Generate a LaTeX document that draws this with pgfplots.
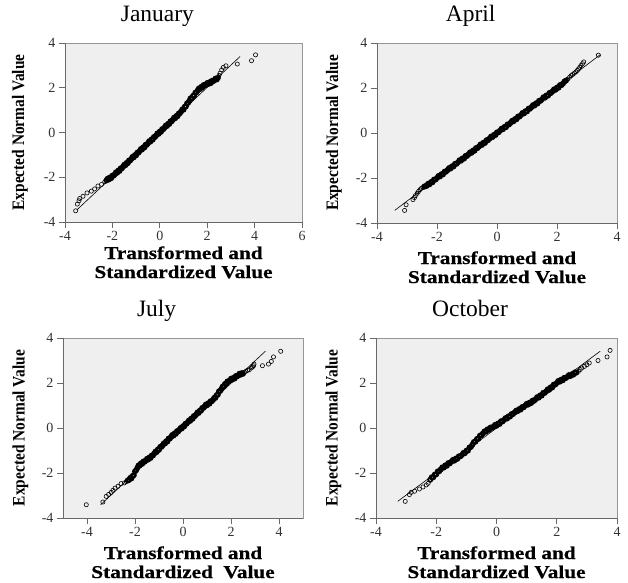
\documentclass[border=0pt]{standalone}
\usepackage{pgfplots}
\pgfplotsset{compat=1.18}
\usepackage{fontspec}
\setmainfont{Liberation Serif}
\newfontfamily\widefont[FakeStretch=1.18, FakeBold=0.6]{Liberation Serif}
\newfontfamily\tallfont[FakeStretch=0.88]{Liberation Serif}
\definecolor{bggray}{RGB}{239,239,239}
\definecolor{axgray}{RGB}{105,105,105}
\definecolor{boxgray}{RGB}{150,150,150}
\pgfplotsset{qq/.style={
  scale only axis, anchor=south west,
  ymin=-4, ymax=4, ytick={-4,-2,0,2,4}, yticklabels={-4,-2,0,2,4},
  axis x line*=bottom, axis y line*=left,
  axis line style={-, draw=axgray, line width=0.8pt},
  axis background/.style={fill=bggray, draw=boxgray, line width=0.6pt},
  xtick pos=left, ytick pos=left, tick align=outside,
  major tick length=6pt,
  tick style={draw=axgray, line width=0.8pt},
  tick label style={font=\fontsize{14}{14}\selectfont, text=black!80},
  title style={font=\fontsize{23.5}{24}\selectfont, at={(axis description cs:0.39,1)}, anchor=base, yshift=16pt},
  ylabel={Expected Normal Value},
  ylabel style={font=\tallfont\bfseries\fontsize{17.5}{18}\selectfont, anchor=center},
  xlabel style={font=\widefont\bfseries\fontsize{18}{19}\selectfont, at={(axis description cs:0.5,0)}, anchor=base},
},
pts/.style={only marks, mark=o, mark size=2.1pt, mark options={line width=0.6pt, draw=black}},
band/.style={only marks, mark=o, mark size=2.1pt, mark options={line width=1.7pt, draw=black}},
ref/.style={black, line width=0.6pt}
}
\begin{document}
\begin{tikzpicture}
\path[use as bounding box] (0pt,0pt) rectangle (628pt,582pt);
% ---------------- January
\begin{axis}[qq, at={(65pt,360pt)}, width=237pt, height=179pt,
  xmin=-4, xmax=6, xtick={-4,-2,0,2,4,6}, xticklabels={-4,-2,0,2,4,6},
  title={January},
  ylabel style={at={(axis description cs:-0.19,0.5)}},
  xlabel={\begin{tabular}[t]{@{}c@{}}Transformed and\\Standardized Value\end{tabular}},
  xlabel style={yshift=-37pt}]
\addplot[ref] coordinates {(-3.5,-3.46) (3.39,3.40)};
\addplot[pts] coordinates {
(-3.55,-3.50) (-3.48,-3.20) (-3.41,-3.05) (-3.38,-2.95) (-3.24,-2.85) (-3.07,-2.70) (-2.89,-2.62) (-2.75,-2.52) (-2.61,-2.39) (-2.46,-2.32) (-2.32,-2.20)
(2.50,2.55) (2.54,2.65) (2.61,2.80) (2.68,2.91) (2.79,2.98) (3.27,3.06) (3.87,3.21) (4.04,3.47)
};
\addplot[band] coordinates {
(-2.25,-2.14) (-2.20,-2.06) (-2.15,-2.10) (-2.10,-2.01) (-2.05,-2.04) (-2.00,-1.93) (-1.95,-1.93) (-1.90,-1.87) (-1.85,-1.78) (-1.80,-1.80)
(-1.75,-1.70) (-1.70,-1.72) (-1.65,-1.60) (-1.60,-1.60) (-1.55,-1.53) (-1.50,-1.44) (-1.45,-1.46) (-1.40,-1.36) (-1.35,-1.37) (-1.30,-1.25)
(-1.25,-1.25) (-1.20,-1.18) (-1.15,-1.09) (-1.10,-1.11) (-1.05,-1.01) (-1.00,-1.02) (-0.95,-0.90) (-0.90,-0.90) (-0.85,-0.83) (-0.80,-0.74)
(-0.75,-0.76) (-0.70,-0.66) (-0.65,-0.67) (-0.60,-0.55) (-0.55,-0.55) (-0.50,-0.48) (-0.45,-0.39) (-0.40,-0.41) (-0.35,-0.31) (-0.30,-0.32)
(-0.25,-0.20) (-0.20,-0.20) (-0.15,-0.13) (-0.10,-0.04) (-0.05,-0.06) (0.00,0.04) (0.05,0.03) (0.10,0.15) (0.15,0.15) (0.20,0.22)
(0.25,0.31) (0.30,0.29) (0.35,0.39) (0.40,0.38) (0.45,0.50) (0.50,0.50) (0.55,0.57) (0.60,0.66) (0.65,0.64) (0.70,0.74)
(0.75,0.73) (0.80,0.85) (0.85,0.86) (0.90,0.94) (0.95,1.03) (1.00,1.02) (1.05,1.15) (1.10,1.16) (1.15,1.30) (1.20,1.33)
(1.25,1.42) (1.30,1.53) (1.35,1.52) (1.40,1.64) (1.45,1.65) (1.50,1.78) (1.55,1.80) (1.60,1.88) (1.65,1.97) (1.70,1.94)
(1.75,2.04) (1.80,2.02) (1.85,2.12) (1.90,2.10) (1.95,2.15) (2.00,2.21) (2.05,2.17) (2.10,2.25) (2.15,2.21) (2.20,2.31)
(2.25,2.29) (2.30,2.34) (2.35,2.41) (2.40,2.37) (2.45,2.44)
};
\end{axis}
% ---------------- April
\begin{axis}[qq, at={(377pt,359pt)}, width=240pt, height=180pt,
  xmin=-4, xmax=4, xtick={-4,-2,0,2,4}, xticklabels={-4,-2,0,2,4},
  title={April},
  ylabel style={at={(axis description cs:-0.18,0.5)}},
  xlabel={\begin{tabular}[t]{@{}c@{}}Transformed and\\Standardized Value\end{tabular}},
  xlabel style={yshift=-41pt}]
\addplot[ref] coordinates {(-3.41,-3.44) (3.44,3.48)};
\addplot[pts] coordinates {
(-3.08,-3.44) (-3.03,-3.19) (-2.80,-2.96) (-2.75,-2.87) (-2.72,-2.78) (-2.66,-2.68) (-2.62,-2.60) (-2.57,-2.52) (-2.52,-2.46) (-2.47,-2.42)
(2.36,2.40) (2.42,2.48) (2.47,2.55) (2.52,2.60) (2.58,2.66) (2.63,2.72) (2.68,2.78) (2.72,2.85) (2.76,2.92) (2.80,3.00) (2.85,3.08) (2.89,3.16) (3.38,3.46)
};
\addplot[band] coordinates {
(-2.42,-2.38) (-2.38,-2.36)
(-2.35,-2.35) (-2.30,-2.26) (-2.25,-2.28) (-2.20,-2.18) (-2.15,-2.19) (-2.10,-2.07) (-2.05,-2.07) (-2.00,-2.00) (-1.95,-1.91) (-1.90,-1.93)
(-1.85,-1.83) (-1.80,-1.84) (-1.75,-1.72) (-1.70,-1.72) (-1.65,-1.65) (-1.60,-1.56) (-1.55,-1.58) (-1.50,-1.48) (-1.45,-1.49) (-1.40,-1.37)
(-1.35,-1.37) (-1.30,-1.30) (-1.25,-1.21) (-1.20,-1.23) (-1.15,-1.13) (-1.10,-1.14) (-1.05,-1.02) (-1.00,-1.02) (-0.95,-0.95) (-0.90,-0.86)
(-0.85,-0.88) (-0.80,-0.78) (-0.75,-0.79) (-0.70,-0.67) (-0.65,-0.67) (-0.60,-0.60) (-0.55,-0.51) (-0.50,-0.53) (-0.45,-0.43) (-0.40,-0.44)
(-0.35,-0.32) (-0.30,-0.32) (-0.25,-0.25) (-0.20,-0.16) (-0.15,-0.18) (-0.10,-0.08) (-0.05,-0.09) (0.00,0.03) (0.05,0.03) (0.10,0.10)
(0.15,0.19) (0.20,0.17) (0.25,0.27) (0.30,0.26) (0.35,0.38) (0.40,0.38) (0.45,0.45) (0.50,0.54) (0.55,0.52) (0.60,0.62)
(0.65,0.61) (0.70,0.73) (0.75,0.73) (0.80,0.80) (0.85,0.89) (0.90,0.87) (0.95,0.97) (1.00,0.96) (1.05,1.08) (1.10,1.08)
(1.15,1.15) (1.20,1.24) (1.25,1.22) (1.30,1.32) (1.35,1.31) (1.40,1.43) (1.45,1.43) (1.50,1.50) (1.55,1.59) (1.60,1.57)
(1.65,1.67) (1.70,1.66) (1.75,1.78) (1.80,1.78) (1.85,1.85) (1.90,1.94) (1.95,1.92) (2.00,2.02) (2.05,2.01) (2.10,2.13)
(2.15,2.13) (2.20,2.20) (2.25,2.29) (2.30,2.33)
};
\end{axis}
% ---------------- July
\begin{axis}[qq, at={(63pt,64pt)}, width=240pt, height=180pt,
  xmin=-5, xmax=5, xtick={-4,-2,0,2,4}, xticklabels={-4,-2,0,2,4},
  title={July},
  ylabel style={at={(axis description cs:-0.177,0.5)}},
  xlabel={\begin{tabular}[t]{@{}c@{}}Transformed and\\Standardized\ \ Value\end{tabular}},
  xlabel style={yshift=-41pt}]
\addplot[ref] coordinates {(-3.43,-3.41) (3.43,3.41)};
\addplot[pts] coordinates {
(-4.03,-3.41) (-3.34,-3.29) (-3.20,-3.04) (-3.10,-2.95) (-2.99,-2.86) (-2.92,-2.77) (-2.83,-2.67) (-2.71,-2.59) (-2.58,-2.47) (-2.44,-2.44) (-2.36,-2.38)
(2.56,2.48) (2.62,2.52) (2.69,2.56) (2.76,2.59) (2.85,2.67) (2.90,2.72) (2.94,2.77) (2.96,2.84) (3.31,2.77) (3.56,2.84) (3.68,2.96) (3.77,3.16) (4.07,3.41)
};
\addplot[band] coordinates {
(-2.30,-2.33)
(-2.25,-2.31) (-2.20,-2.22) (-2.15,-2.24) (-2.10,-2.13) (-2.05,-2.10) (-2.00,-1.93) (-1.95,-1.87) (-1.90,-1.77) (-1.85,-1.66) (-1.80,-1.66)
(-1.75,-1.57) (-1.70,-1.59) (-1.65,-1.49) (-1.60,-1.50) (-1.55,-1.44) (-1.50,-1.37) (-1.45,-1.40) (-1.40,-1.31) (-1.35,-1.33) (-1.30,-1.22)
(-1.25,-1.22) (-1.20,-1.14) (-1.15,-1.05) (-1.10,-1.07) (-1.05,-0.96) (-1.00,-0.97) (-0.95,-0.84) (-0.90,-0.84) (-0.85,-0.77) (-0.80,-0.68)
(-0.75,-0.69) (-0.70,-0.59) (-0.65,-0.60) (-0.60,-0.47) (-0.55,-0.47) (-0.50,-0.40) (-0.45,-0.31) (-0.40,-0.34) (-0.35,-0.24) (-0.30,-0.26)
(-0.25,-0.14) (-0.20,-0.15) (-0.15,-0.08) (-0.10,0.00) (-0.05,-0.02) (0.00,0.08) (0.05,0.07) (0.10,0.19) (0.15,0.19) (0.20,0.26)
(0.25,0.34) (0.30,0.32) (0.35,0.42) (0.40,0.41) (0.45,0.53) (0.50,0.53) (0.55,0.60) (0.60,0.69) (0.65,0.67) (0.70,0.77)
(0.75,0.77) (0.80,0.89) (0.85,0.89) (0.90,0.96) (0.95,1.04) (1.00,1.01) (1.05,1.10) (1.10,1.08) (1.15,1.19) (1.20,1.19)
(1.25,1.25) (1.30,1.34) (1.35,1.34) (1.40,1.46) (1.45,1.48) (1.50,1.63) (1.55,1.65) (1.60,1.73) (1.65,1.84) (1.70,1.84)
(1.75,1.96) (1.80,1.96) (1.85,2.07) (1.90,2.06) (1.95,2.11) (2.00,2.19) (2.05,2.15) (2.10,2.23) (2.15,2.20) (2.20,2.31)
(2.25,2.29) (2.30,2.34) (2.35,2.41) (2.40,2.37) (2.45,2.44) (2.50,2.41)
};
\end{axis}
% ---------------- October
\begin{axis}[qq, at={(376pt,64pt)}, width=241pt, height=180pt,
  xmin=-4, xmax=4, xtick={-4,-2,0,2,4}, xticklabels={-4,-2,0,2,4},
  title={October},
  ylabel style={at={(axis description cs:-0.177,0.5)}},
  xlabel={\begin{tabular}[t]{@{}c@{}}Transformed and\\Standardized Value\end{tabular}},
  xlabel style={yshift=-41pt}]
\addplot[ref] coordinates {(-3.28,-3.26) (3.44,3.41)};
\addplot[pts] coordinates {
(-3.03,-3.26) (-2.89,-2.96) (-2.83,-2.86) (-2.72,-2.81) (-2.56,-2.71) (-2.44,-2.62) (-2.33,-2.53) (-2.27,-2.46)
(2.72,2.52) (2.78,2.60) (2.83,2.67) (2.92,2.74) (3.00,2.81) (3.08,2.89) (3.37,3.00) (3.67,3.16) (3.77,3.45)
};
\addplot[band] coordinates {
(-2.20,-2.30) (-2.15,-2.19) (-2.10,-2.19) (-2.05,-2.07) (-2.00,-2.06) (-1.95,-1.93) (-1.90,-1.92) (-1.85,-1.84) (-1.80,-1.75) (-1.75,-1.76)
(-1.70,-1.66) (-1.65,-1.68) (-1.60,-1.56) (-1.55,-1.57) (-1.50,-1.50) (-1.45,-1.42) (-1.40,-1.45) (-1.35,-1.36) (-1.30,-1.37) (-1.25,-1.26)
(-1.20,-1.26) (-1.15,-1.20) (-1.10,-1.11) (-1.05,-1.12) (-1.00,-1.01) (-0.95,-1.01) (-0.90,-0.87) (-0.85,-0.84) (-0.80,-0.74) (-0.75,-0.62)
(-0.70,-0.61) (-0.65,-0.49) (-0.60,-0.48) (-0.55,-0.34) (-0.50,-0.32) (-0.45,-0.24) (-0.40,-0.15) (-0.35,-0.16) (-0.30,-0.06) (-0.25,-0.08)
(-0.20,0.02) (-0.15,0.01) (-0.10,0.06) (-0.05,0.14) (0.00,0.10) (0.05,0.20) (0.10,0.18) (0.15,0.30) (0.20,0.29) (0.25,0.36)
(0.30,0.44) (0.35,0.42) (0.40,0.52) (0.45,0.51) (0.50,0.62) (0.55,0.62) (0.60,0.69) (0.65,0.77) (0.70,0.75) (0.75,0.84)
(0.80,0.82) (0.85,0.93) (0.90,0.92) (0.95,0.99) (1.00,1.07) (1.05,1.04) (1.10,1.13) (1.15,1.11) (1.20,1.22) (1.25,1.21)
(1.30,1.28) (1.35,1.37) (1.40,1.35) (1.45,1.45) (1.50,1.44) (1.55,1.56) (1.60,1.56) (1.65,1.63) (1.70,1.72) (1.75,1.70)
(1.80,1.81) (1.85,1.80) (1.90,1.93) (1.95,1.93) (2.00,2.00) (2.05,2.09) (2.10,2.06) (2.15,2.15) (2.20,2.12) (2.25,2.23)
(2.30,2.22) (2.35,2.27) (2.40,2.35) (2.45,2.31) (2.50,2.39) (2.55,2.37) (2.60,2.47) (2.65,2.46)
};
\end{axis}
\end{tikzpicture}
\end{document}
